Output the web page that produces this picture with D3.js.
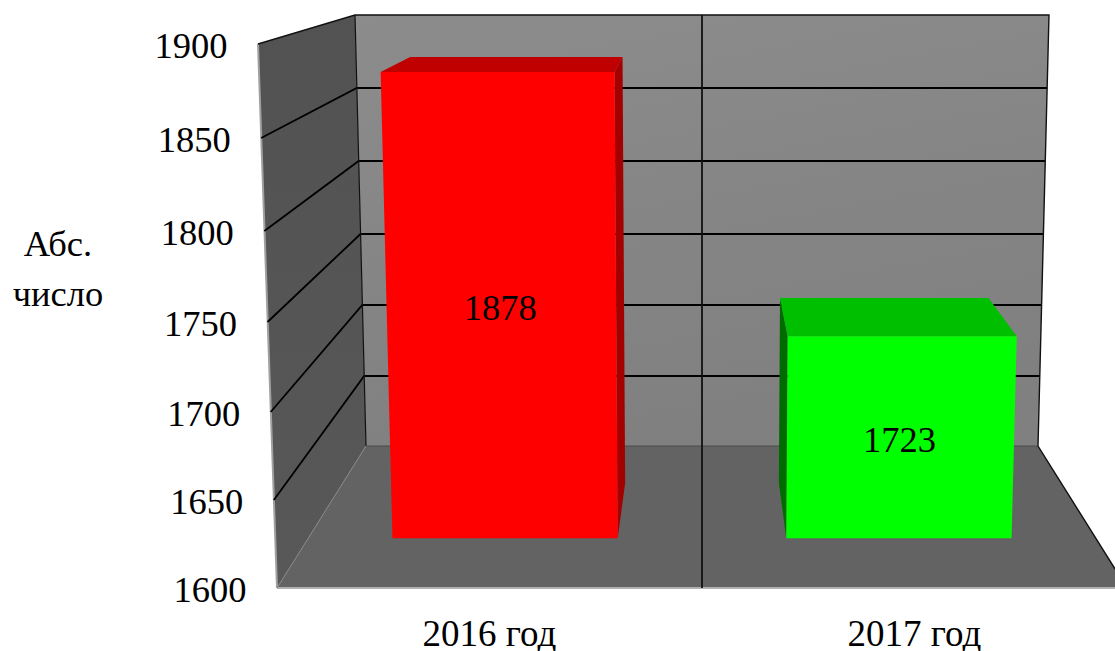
<!DOCTYPE html>
<html lang="ru">
<head>
<meta charset="utf-8">
<title>Абс. число</title>
<script src="https://cdn.jsdelivr.net/npm/d3@7/dist/d3.min.js"></script>
<style>
  html, body { margin: 0; padding: 0; background: #fff; overflow: hidden; }
  svg { display: block; }
  text { font-family: "Liberation Serif", serif; font-size: 36.5px; fill: #000; }
  .category { font-size: 37px; }
</style>
</head>
<body>
<svg id="chart" width="1115" height="651"></svg>
<script>
// Chart data
const categories = ["2016 год", "2017 год"];
const values = [1878, 1723];
const tickValues = [1600, 1650, 1700, 1750, 1800, 1850, 1900];
const axisTitle = ["Абс.", "число"];
const barFills = [
  { front: "#ff0000", top: "#c00000", side: "#a40000" },
  { front: "#00ff00", top: "#00bf00", side: "#006c00" }
];

const svg = d3.select("#chart");
const defs = svg.append("defs");

// Perspective box: y and half-width of the plot for a value on the front and back planes.
const yFront = d3.scaleLinear().domain(tickValues).range([588, 500, 412, 322, 231, 138, 44]);
const yBack = d3.scaleLinear().domain(tickValues).range([446, 376, 305, 234, 161, 88, 15]);
const halfFront = d3.scaleLinear().domain([1600, 1900]).range([425, 444]);
const halfBack = d3.scaleLinear().domain([1600, 1900]).range([336, 347]);
const centerX = 702;

// Horizontal position runs from -1 (left wall) to 1 (right side); depth from 0 (front) to 1 (back).
const u = d3.scaleBand().domain(categories).range([-1, 1]).paddingInner(0.428).paddingOuter(0.214);
const depthBarFront = 0.35;
const depthBarBack = 0.74;

function project(pos, value, depth) {
  const half = halfFront(value) + (halfBack(value) - halfFront(value)) * depth;
  const y = yFront(value) + (yBack(value) - yFront(value)) * depth;
  return [centerX + pos * half, y];
}

const lineGen = d3.line();
const closed = pts => lineGen(pts) + "Z";
const vMin = tickValues[0];
const vMax = tickValues[tickValues.length - 1];

function gradient(id, x2, y2, stops) {
  const g = defs.append("linearGradient").attr("id", id)
    .attr("x1", 0).attr("y1", 0).attr("x2", x2).attr("y2", y2);
  stops.forEach(([o, c]) => g.append("stop").attr("offset", o).attr("stop-color", c));
}
gradient("wallBack", 0.3, 1, [[0, "#8c8c8c"], [1, "#808080"]]);
gradient("wallLeft", 0, 1, [[0, "#525252"], [1, "#585858"]]);

// Walls and floor
svg.append("path")
  .attr("d", closed([project(-1, vMax, 1), project(1, vMax, 1), project(1, vMin, 1), project(-1, vMin, 1)]))
  .attr("fill", "url(#wallBack)");
svg.append("path")
  .attr("d", closed([project(-1, vMax, 0), project(-1, vMax, 1), project(-1, vMin, 1), project(-1, vMin, 0)]))
  .attr("fill", "url(#wallLeft)");
svg.append("path")
  .attr("d", closed([project(-1, vMin, 1), project(1, vMin, 1), project(1, vMin, 0), project(-1, vMin, 0)]))
  .attr("fill", "#636363");

// Soft outer edges of the box
svg.append("path")
  .attr("d", lineGen([project(-1, vMax, 0), project(-1, vMin, 0)]))
  .attr("stroke", "#a0a0a0").attr("stroke-width", 2).attr("fill", "none");
svg.append("path")
  .attr("d", lineGen([project(-1, vMin, 0), project(1, vMin, 0)]))
  .attr("stroke", "#b0b0b0").attr("stroke-width", 2).attr("fill", "none");

// Gridlines along the left wall and the back wall
const gridTicks = tickValues.slice(1, -1);
svg.append("g").selectAll("path").data(gridTicks).join("path")
  .attr("d", v => lineGen([project(-1, v, 0), project(-1, v, 1), project(1, v, 1)]))
  .attr("fill", "none").attr("stroke", "#000").attr("stroke-width", 1.8);

// Box wireframe
const wire = [
  { pts: [project(-1, vMax, 0), project(-1, vMax, 1), project(1, vMax, 1), project(1, vMin, 1), project(1, vMin, 0)], w: 1.4, c: "#111" },
  { pts: [project(-1, vMax, 1), project(-1, vMin, 1)], w: 1.2, c: "#111" },
  { pts: [project(-1, vMin, 1), project(-1, vMin, 0)], w: 1, c: "#858585" },
  { pts: [project(-1, vMin, 1), project(1, vMin, 1)], w: 1, c: "#4a4a4a" },
  { pts: [project(0, vMax, 1), project(0, vMin, 1), project(0, vMin, 0)], w: 1.8, c: "#111" }
];
svg.append("g").selectAll("path").data(wire).join("path")
  .attr("d", d => lineGen(d.pts))
  .attr("fill", "none").attr("stroke", d => d.c).attr("stroke-width", d => d.w);

// Bars: the side facing the centre, then the top, then the front
const bars = svg.append("g").selectAll("g")
  .data(categories.map((c, i) => ({ c, v: values[i], fill: barFills[i] })))
  .join("g");

const left = d => u(d.c);
const right = d => u(d.c) + u.bandwidth();
const innerEdge = d => (right(d) < 0 ? right(d) : left(d));

bars.append("path")
  .attr("d", d => closed([
    project(innerEdge(d), d.v, depthBarFront), project(innerEdge(d), d.v, depthBarBack),
    project(innerEdge(d), vMin, depthBarBack), project(innerEdge(d), vMin, depthBarFront)
  ]))
  .attr("fill", d => d.fill.side);
bars.append("path")
  .attr("d", d => closed([
    project(left(d), d.v, depthBarBack), project(right(d), d.v, depthBarBack),
    project(right(d), d.v, depthBarFront), project(left(d), d.v, depthBarFront)
  ]))
  .attr("fill", d => d.fill.top);
bars.append("path")
  .attr("d", d => closed([
    project(left(d), d.v, depthBarFront), project(right(d), d.v, depthBarFront),
    project(right(d), vMin, depthBarFront), project(left(d), vMin, depthBarFront)
  ]))
  .attr("fill", d => d.fill.front);

// Value labels, at the middle of each bar's front face
const faceMiddle = d => {
  const pos = left(d) + u.bandwidth() / 2;
  const a = project(pos, d.v, depthBarFront);
  const b = project(pos, vMin, depthBarFront);
  return [(a[0] + b[0]) / 2, (a[1] + b[1]) / 2];
};
bars.append("text")
  .attr("text-anchor", "middle")
  .attr("x", d => faceMiddle(d)[0] - 1)
  .attr("y", d => faceMiddle(d)[1] + 14.5)
  .text(d => d.v);

// Value axis labels follow the slanted front edge of the wall
svg.append("g").selectAll("text").data(tickValues).join("text")
  .attr("text-anchor", "end")
  .attr("x", v => project(-1, v, 0)[0] - 30.5)
  .attr("y", v => yFront(v) + 14)
  .text(v => v);

// Category labels
svg.append("g").selectAll("text").data(categories).join("text")
  .attr("class", "category")
  .attr("text-anchor", "middle")
  .attr("x", c => project(u(c) + u.bandwidth() / 2, vMin, 0)[0])
  .attr("y", 646)
  .text(c => c);

// Axis title
svg.append("g").selectAll("text").data(axisTitle).join("text")
  .attr("text-anchor", "middle")
  .attr("x", 58)
  .attr("y", (d, i) => 255.5 + i * 50)
  .text(d => d);
</script>
</body>
</html>
